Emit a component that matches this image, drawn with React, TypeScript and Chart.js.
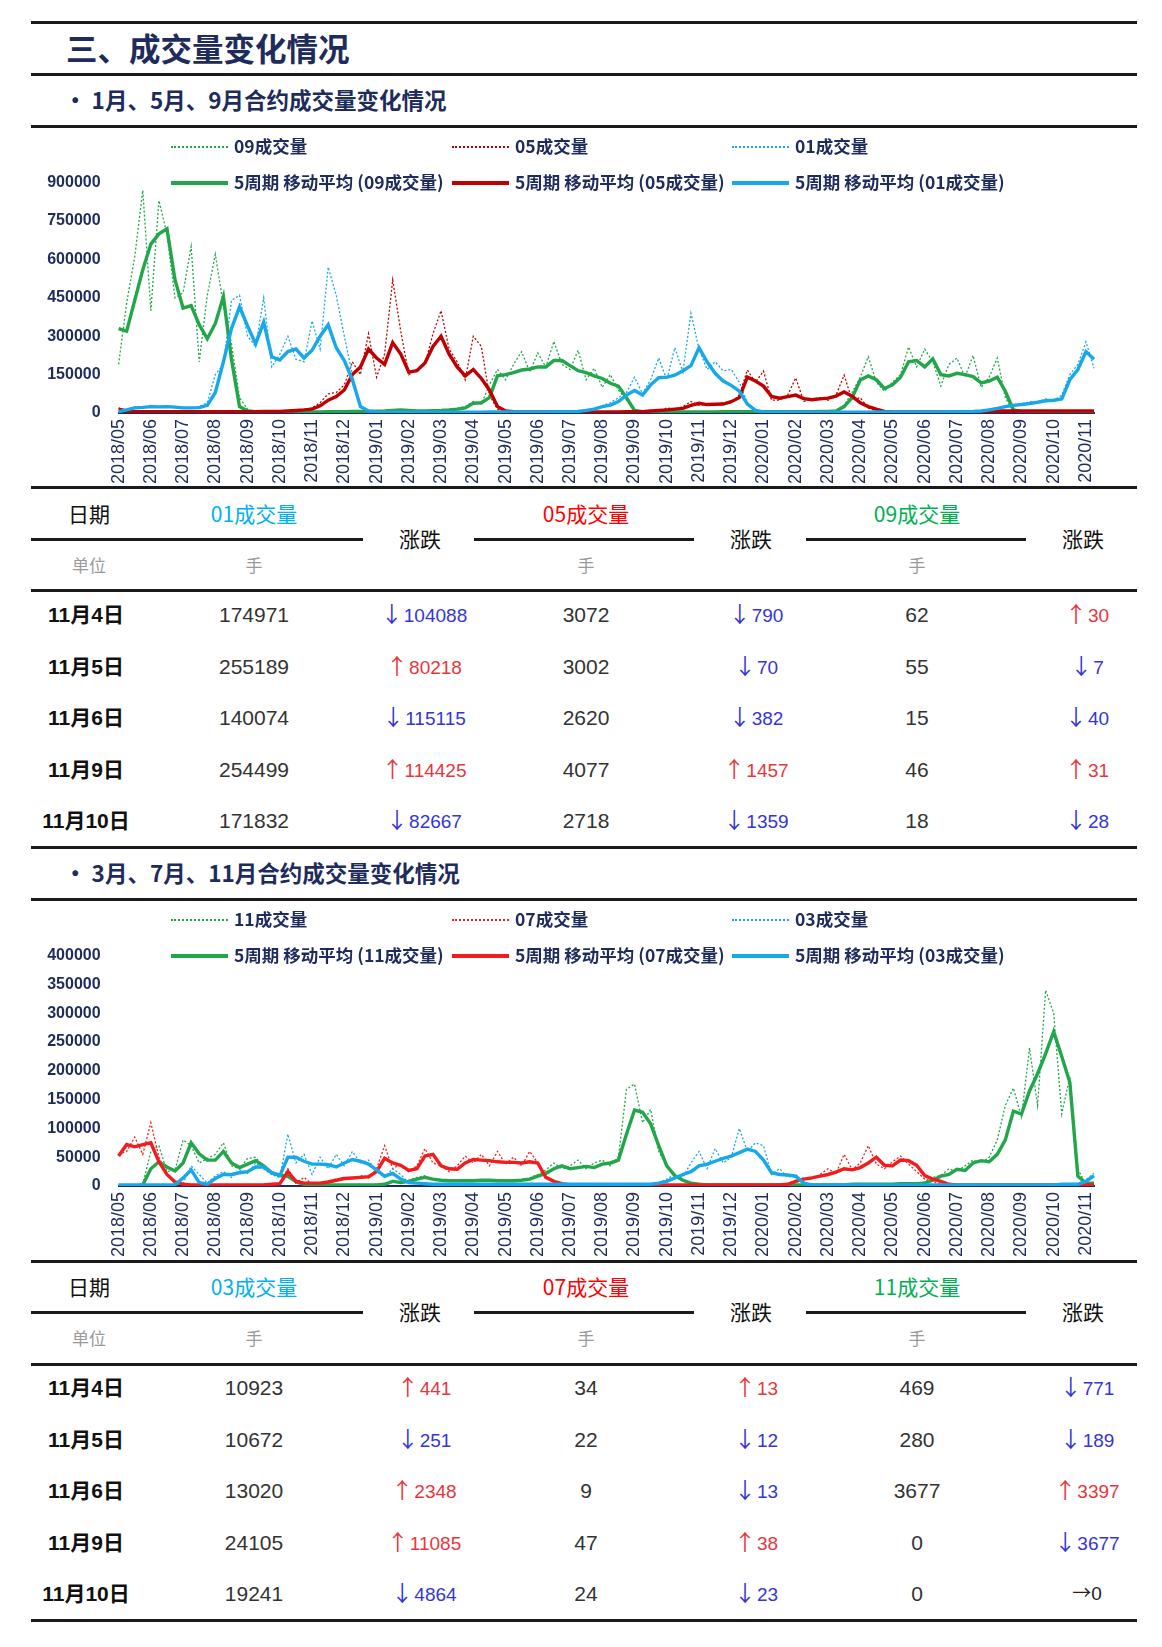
import React, { useEffect, useRef } from 'react';
import { Chart, registerables } from 'chart.js';

Chart.register(...registerables);

// ---------- axis labels ----------
const monthLabels = [
  '2018/05', '2018/06', '2018/07', '2018/08', '2018/09', '2018/10', '2018/11', '2018/12',
  '2019/01', '2019/02', '2019/03', '2019/04', '2019/05', '2019/06', '2019/07', '2019/08',
  '2019/09', '2019/10', '2019/11', '2019/12', '2020/01', '2020/02', '2020/03', '2020/04',
  '2020/05', '2020/06', '2020/07', '2020/08', '2020/09', '2020/10', '2020/11',
];
// 4 weekly samples per month, ending early Nov 2020 (122 points)
const POINTS = 122;
const xLabels = Array.from({ length: POINTS }, (_, i) => (i % 4 === 0 ? monthLabels[i / 4] : ''));

// ---------- chart 1 (values in thousand lots) ----------
const c1Raw09 = [
  190, 430, 610, 870, 400, 830, 700, 450, 470, 650, 200, 460, 620, 420, 270, 60,
  15, 5, 4, 3, 3, 3, 3, 4, 4, 5, 4, 6, 5, 6, 7, 6,
  7, 9, 12, 14, 9, 8, 7, 10, 11, 14, 18, 25, 45, 35, 110, 170,
  130, 190, 240, 160, 235, 180, 280, 190, 170, 245, 130, 175, 100, 150, 90, 50,
  8, 5, 5, 5, 4, 4, 4, 4, 4, 4, 4, 5, 5, 5, 5, 5,
  5, 5, 5, 5, 5, 5, 6, 6, 7, 10, 30, 80, 140, 220, 120, 85,
  120, 150, 258, 180, 250, 200, 105, 190, 215, 140, 225, 100, 140, 215, 60, 8,
  4, 3, 3, 3, 3, 3, 3, 3, 3, 3,
];
const c1Raw05 = [
  20, 5, 4, 5, 5, 6, 5, 4, 5, 6, 5, 5, 5, 5, 6, 5,
  5, 6, 6, 7, 7, 10, 12, 14, 20, 40, 75, 80, 110, 200, 150, 310,
  140, 230, 520, 320, 150, 170, 190, 310, 400, 250, 200, 130, 300, 260, 70, 15,
  5, 4, 4, 4, 4, 4, 4, 4, 4, 4, 4, 4, 4, 4, 5, 5,
  5, 6, 10, 8, 20, 15, 25, 45, 30, 35, 30, 40, 40, 70, 168, 120,
  164, 50, 50, 70, 137, 45, 55, 60, 50, 70, 148, 50, 60, 20, 8, 4,
  4, 4, 4, 4, 4, 4, 4, 4, 4, 4, 5, 5, 7, 8, 8, 9,
  8, 8, 9, 8, 8, 9, 8, 8, 8, 8,
];
const c1Raw01 = [
  2, 15, 25, 20, 30, 25, 28, 20, 22, 18, 25, 40, 150, 190, 440, 460,
  300, 260, 450, 180, 230, 300, 210, 200, 360, 250, 570, 460, 300, 150, 30, 10,
  4, 3, 3, 3, 3, 3, 3, 3, 3, 3, 3, 3, 3, 4, 4, 4,
  4, 4, 5, 4, 4, 5, 5, 5, 6, 7, 12, 18, 28, 40, 60, 80,
  140, 75, 130, 215, 130, 255, 160, 390, 250, 170, 200, 165, 170, 120, 40, 8,
  4, 3, 3, 3, 3, 3, 3, 3, 3, 3, 3, 3, 3, 3, 4, 4,
  4, 4, 4, 4, 4, 4, 5, 5, 5, 6, 7, 9, 15, 20, 28, 35,
  30, 45, 40, 55, 48, 70, 150, 190, 278, 175,
];
const c1Ma09 = [
  330, 320, 440, 560, 660, 700, 720, 520, 410, 420, 345, 290, 350, 455, 210, 25,
  8, 5, 4, 3, 3, 3, 3, 4, 4, 4, 5, 5, 5, 6, 6, 6,
  7, 8, 10, 12, 10, 8, 8, 9, 10, 12, 15, 20, 38, 40, 60, 145,
  150, 158, 168, 172, 180, 180, 205, 205, 185, 165, 158, 145, 135, 116, 105, 60,
  10, 5, 5, 5, 4, 4, 4, 4, 4, 4, 4, 5, 5, 5, 5, 5,
  5, 5, 5, 5, 5, 5, 5, 6, 6, 8, 25, 60, 129, 145, 130, 96,
  110, 140, 200, 205, 180, 212, 150, 145, 155, 150, 142, 118, 125, 140, 85, 12,
  5, 4, 3, 3, 3, 3, 3, 3, 3, 3,
];
const c1Ma05 = [
  15, 8, 5, 5, 5, 5, 5, 5, 5, 5, 5, 5, 5, 5, 5, 5,
  5, 5, 6, 6, 6, 8, 10, 12, 15, 28, 50, 64, 90, 150, 180, 250,
  215, 190, 275, 230, 160, 165, 195, 260, 300, 230, 180, 145, 170, 135, 90, 25,
  8, 5, 4, 4, 4, 4, 4, 4, 4, 4, 4, 4, 4, 4, 4, 5,
  5, 5, 8, 10, 12, 15, 18, 30, 38, 33, 34, 35, 44, 60, 140, 125,
  105, 65, 58, 64, 70, 56, 52, 55, 58, 66, 82, 66, 40, 25, 15, 6,
  4, 4, 4, 4, 4, 4, 4, 4, 4, 4, 4, 5, 6, 8, 8, 8,
  8, 8, 8, 8, 8, 8, 8, 8, 8, 8,
];
const c1Ma01 = [
  5, 12, 20, 22, 25, 24, 25, 23, 20, 20, 21, 30, 80, 200, 330, 415,
  340, 270, 355, 220, 207, 240, 250, 215, 245, 300, 345, 255, 205, 130, 25, 8,
  4, 3, 3, 3, 3, 3, 3, 3, 3, 3, 3, 3, 3, 3, 4, 4,
  4, 4, 4, 4, 4, 4, 5, 5, 5, 6, 10, 15, 25, 31, 45, 70,
  88, 70, 110, 138, 140, 148, 165, 185, 255, 200, 155, 125, 108, 85, 35, 10,
  4, 3, 3, 3, 3, 3, 3, 3, 3, 3, 3, 3, 3, 3, 4, 4,
  4, 4, 4, 4, 4, 4, 4, 5, 5, 5, 6, 8, 12, 18, 25, 30,
  33, 37, 42, 48, 50, 55, 130, 170, 240, 210,
];

// ---------- chart 2 (values in thousand lots) ----------
const c2Raw11 = [
  0, 0, 0, 3, 60, 70, 25, 28, 80, 70, 40, 48, 55, 75, 35, 30,
  48, 50, 30, 20, 15, 18, 5, 2, 2, 2, 2, 2, 2, 2, 3, 2,
  3, 4, 10, 5, 10, 15, 18, 10, 9, 10, 8, 10, 9, 11, 9, 10,
  8, 10, 11, 14, 20, 28, 40, 30, 35, 45, 30, 40, 45, 35, 50, 168,
  177, 110, 133, 60, 35, 20, 10, 4, 2, 2, 2, 2, 2, 2, 2, 2,
  2, 2, 2, 2, 2, 2, 2, 2, 2, 3, 2, 3, 3, 3, 4, 3,
  4, 4, 5, 5, 7, 15, 18, 30, 25, 35, 45, 40, 50, 80, 140, 170,
  120, 240, 140, 340, 300, 125, 190, 30, 2, 0,
];
const c2Raw07 = [
  55, 60, 85, 55, 110, 50, 20, 5, 3, 2, 2, 2, 2, 2, 2, 2,
  2, 2, 3, 3, 5, 30, 5, 15, 3, 6, 8, 12, 15, 12, 18, 14,
  30, 70, 30, 38, 25, 35, 65, 40, 35, 25, 35, 52, 40, 55, 35, 60,
  38, 50, 35, 60, 40, 15, 8, 2, 2, 2, 2, 2, 2, 2, 2, 2,
  2, 2, 2, 2, 2, 2, 2, 2, 2, 2, 3, 2, 2, 3, 2, 2,
  2, 2, 3, 4, 10, 14, 12, 20, 30, 22, 55, 28, 40, 70, 38, 30,
  42, 52, 38, 25, 12, 8, 3, 2, 2, 2, 2, 2, 2, 2, 2, 2,
  2, 2, 2, 2, 2, 2, 2, 2, 2, 2,
];
const c2Raw03 = [
  2, 2, 2, 2, 2, 2, 2, 2, 5, 35, 20, 5, 18, 25, 15, 28,
  22, 40, 30, 20, 15, 90, 40, 55, 20, 50, 30, 55, 35, 60, 40, 45,
  25, 15, 30, 20, 5, 4, 4, 3, 3, 3, 3, 3, 3, 3, 3, 3,
  3, 3, 3, 3, 3, 3, 3, 3, 3, 3, 3, 3, 3, 3, 3, 3,
  3, 3, 4, 6, 12, 20, 15, 40, 60, 30, 65, 40, 50, 100, 60, 75,
  70, 20, 30, 15, 20, 3, 2, 2, 2, 2, 2, 2, 2, 2, 2, 2,
  2, 2, 2, 2, 2, 2, 2, 2, 2, 2, 2, 2, 2, 2, 2, 2,
  2, 2, 2, 2, 2, 3, 3, 4, 11, 22,
];
const c2Ma11 = [
  0, 0, 0, 2, 30, 42, 33, 26, 40, 75, 56, 45, 45, 60, 40, 32,
  38, 44, 35, 23, 19, 17, 8, 3, 2, 2, 2, 2, 2, 2, 2, 2,
  2, 3, 8, 6, 8, 12, 15, 12, 10, 9, 9, 9, 9, 10, 10, 9,
  9, 9, 10, 12, 17, 22, 30, 35, 30, 32, 34, 32, 38, 40, 45, 90,
  132, 128, 108, 70, 35, 18, 10, 5, 3, 2, 2, 2, 2, 2, 2, 2,
  2, 2, 2, 2, 2, 2, 2, 2, 2, 2, 2, 3, 3, 3, 3, 3,
  3, 4, 4, 4, 5, 10, 17, 20, 29, 27, 40, 44, 42, 55, 80, 130,
  125, 165, 195, 230, 268, 225, 180, 17, 5, 5,
];
const c2Ma07 = [
  52, 72, 68, 72, 75, 42, 20, 7, 3, 2, 2, 2, 2, 2, 2, 2,
  2, 2, 2, 3, 4, 25, 8, 5, 5, 5, 7, 10, 13, 14, 15, 16,
  25, 48, 40, 36, 27, 30, 52, 55, 35, 30, 29, 40, 46, 45, 44, 42,
  41, 41, 40, 42, 40, 15, 8, 4, 2, 2, 2, 2, 2, 2, 2, 2,
  2, 2, 2, 2, 2, 2, 2, 2, 2, 2, 2, 2, 2, 2, 2, 2,
  2, 2, 2, 3, 8, 12, 14, 17, 20, 24, 30, 28, 32, 40, 50, 36,
  35, 45, 44, 36, 18, 12, 8, 3, 2, 2, 2, 2, 2, 2, 2, 2,
  2, 2, 2, 2, 2, 2, 2, 2, 2, 2,
];
const c2Ma03 = [
  2, 2, 2, 2, 2, 2, 2, 2, 14, 28, 6, 3, 13, 20, 20, 23,
  25, 33, 33, 23, 18, 50, 50, 43, 38, 38, 37, 33, 40, 46, 43, 38,
  28, 17, 22, 12, 6, 5, 4, 3, 3, 3, 3, 3, 3, 3, 3, 3,
  3, 3, 3, 3, 3, 3, 3, 3, 3, 3, 3, 3, 3, 3, 3, 3,
  3, 3, 3, 5, 8, 14, 20, 25, 35, 38, 43, 48, 52, 58, 64, 60,
  45, 23, 20, 19, 17, 5, 2, 2, 2, 2, 2, 2, 2, 2, 2, 2,
  2, 2, 2, 2, 2, 2, 2, 2, 2, 2, 2, 2, 2, 2, 2, 2,
  2, 2, 2, 2, 2, 3, 3, 3, 8, 18,
];

// ---------- tables ----------
const tableDates = ['11月4日', '11月5日', '11月6日', '11月9日', '11月10日'];
const vol01 = [174971, 255189, 140074, 254499, 171832];
const chg01 = [-104088, 80218, -115115, 114425, -82667];
const vol05 = [3072, 3002, 2620, 4077, 2718];
const chg05 = [-790, -70, -382, 1457, -1359];
const vol09 = [62, 55, 15, 46, 18];
const chg09 = [30, -7, -40, 31, -28];
const vol03 = [10923, 10672, 13020, 24105, 19241];
const chg03 = [441, -251, 2348, 11085, -4864];
const vol07 = [34, 22, 9, 47, 24];
const chg07 = [13, -12, -13, 38, -23];
const vol11 = [469, 280, 3677, 0, 0];
const chg11 = [-771, -189, 3397, -3677, 0];

// ---------- styles ----------
const NAVY = '#1e2c5c';
const GREEN = '#22a64a';
const DARKRED = '#c00000';
const RED = '#f21c1c';
const CYAN = '#17a8ea';
const T_CYAN = '#00b0f0';
const T_RED = '#ff0000';
const T_GREEN = '#00b050';
const UP = '#e8363c';
const DOWN = '#3535d8';
const LATIN = '"Liberation Sans", "Noto Sans CJK SC", sans-serif';
const CJK = '"Noto Sans CJK SC", "Liberation Sans", sans-serif';

const THOUSAND = 1000;
const toLots = (arr: number[]) => arr.map((v) => v * THOUSAND);

type SeriesDef = { name: string; color: string; raw: number[]; ma: number[] };

function buildDatasets(series: SeriesDef[]) {
  const raws = series.map((s, k) => ({
    label: s.name,
    data: toLots(s.raw),
    borderColor: s.color,
    backgroundColor: s.color,
    borderWidth: 1.3,
    borderDash: [2, 2],
    pointRadius: 0,
    tension: 0,
    fill: false,
    order: 10 + (series.length - k),
  }));
  const mas = series.map((s, k) => ({
    label: '5周期 移动平均 (' + s.name + ')',
    data: toLots(s.ma),
    borderColor: s.color,
    backgroundColor: s.color,
    borderWidth: 3.4,
    pointRadius: 0,
    tension: 0,
    fill: false,
    order: series.length - k,
  }));
  return [...raws, ...mas];
}

function VolumeChart({ series, yMax, yStep }: { series: SeriesDef[]; yMax: number; yStep: number }) {
  const ref = useRef<HTMLCanvasElement | null>(null);
  useEffect(() => {
    if (!ref.current) return;
    const chart = new Chart(ref.current, {
      type: 'line',
      data: { labels: xLabels, datasets: buildDatasets(series) as any },
      options: {
        animation: false,
        responsive: false,
        devicePixelRatio: 1,
        layout: { padding: { top: 56.7, right: 68, left: 0, bottom: 0 } },
        plugins: { legend: { display: false }, tooltip: { enabled: false } },
        scales: {
          x: {
            type: 'category',
            grid: { display: false, drawTicks: false },
            border: { display: true, color: NAVY, width: 2 },
            ticks: {
              autoSkip: false,
              minRotation: 90,
              maxRotation: 90,
              padding: 6,
              color: NAVY,
              font: { family: LATIN, size: 18 },
            },
            afterFit: (s: any) => {
              s.height = 74;
            },
          },
          y: {
            min: 0,
            max: yMax,
            grid: { display: false, drawTicks: false },
            border: { display: false },
            ticks: {
              stepSize: yStep,
              padding: 18,
              color: NAVY,
              font: { family: LATIN, size: 16, weight: 'bold' },
              callback: (v: any) => String(v),
            },
            afterFit: (s: any) => {
              s.width = 118.6;
            },
          },
        },
      } as any,
    });
    return () => chart.destroy();
  }, []);
  return <canvas ref={ref} width={1162} height={361} style={{ display: 'block', width: 1162, height: 361 }} />;
}

const Rule = ({ y, x1 = 31, x2 = 1137, h = 3 }: { y: number; x1?: number; x2?: number; h?: number }) => (
  <div style={{ position: 'absolute', left: x1, top: y - h / 2, width: x2 - x1, height: h, background: '#1a1a1a' }} />
);

const Txt = ({ x, y, align = 'center', style, children }: any) => (
  <div
    style={{
      position: 'absolute',
      left: x,
      top: y,
      transform: align === 'center' ? 'translate(-50%, -50%)' : 'translate(0, -50%)',
      whiteSpace: 'nowrap',
      lineHeight: 1,
      ...style,
    }}
  >
    {children}
  </div>
);

function Legend({ top, series }: { top: number; series: SeriesDef[] }) {
  const cols = [171, 452, 732];
  const rows = [top + 20, top + 56];
  const textStyle = { fontFamily: CJK, fontWeight: 700, fontSize: 17.5, color: NAVY };
  const items: any[] = [];
  series.forEach((s, k) => {
    items.push(
      <div key={'rs' + k} style={{ position: 'absolute', left: cols[k], top: rows[0], width: 57, height: 0, borderTop: `2px dotted ${s.color}` }} />,
      <Txt key={'rt' + k} x={cols[k] + 63} y={rows[0]} align="left" style={textStyle}>{s.name}</Txt>,
      <div key={'ms' + k} style={{ position: 'absolute', left: cols[k], top: rows[1] - 1, width: 57, height: 4, background: s.color }} />,
      <Txt key={'mt' + k} x={cols[k] + 63} y={rows[1]} align="left" style={textStyle}>{'5周期 移动平均 (' + s.name + ')'}</Txt>,
    );
  });
  return <>{items}</>;
}

function Change({ v }: { v: number }) {
  if (v === 0) return <span style={{ color: '#222' }}><span style={{ fontFamily: CJK }}>→</span>0</span>;
  const up = v > 0;
  return (
    <span style={{ color: up ? UP : DOWN }}>
      <span style={{ fontFamily: CJK, fontSize: 22, marginRight: 1 }}>{up ? '↑' : '↓'}</span>
      {Math.abs(v)}
    </span>
  );
}

function Table({ top, names, colors, vols, chgs }: { top: number; names: string[]; colors: string[]; vols: number[][]; chgs: number[][] }) {
  const o = top - 487.7;
  const valX = [254, 586, 917];
  const chgX = [424, 756, 1087];
  const rowsY = [614, 665.5, 717, 768.5, 819.5];
  const headStyle = { fontFamily: CJK, fontSize: 21 };
  const unitStyle = { fontFamily: CJK, fontSize: 17, color: '#9a9a9a' };
  return (
    <>
      <Rule y={487.7 + o} />
      <Txt x={89} y={512.5 + o} style={{ ...headStyle, color: '#111' }}>日期</Txt>
      {names.map((n, k) => (
        <Txt key={'h' + k} x={valX[k]} y={512.5 + o} style={{ ...headStyle, color: colors[k] }}>{n}</Txt>
      ))}
      {[420, 751, 1083].map((x, k) => (
        <Txt key={'z' + k} x={x} y={538 + o} style={{ ...headStyle, color: '#111' }}>涨跌</Txt>
      ))}
      <Rule y={539 + o} x1={31} x2={363} />
      <Rule y={539 + o} x1={474} x2={694} />
      <Rule y={539 + o} x1={806} x2={1026} />
      <Txt x={89} y={564 + o} style={unitStyle}>单位</Txt>
      {valX.map((x, k) => (
        <Txt key={'u' + k} x={x} y={564 + o} style={unitStyle}>手</Txt>
      ))}
      <Rule y={590.7 + o} />
      {tableDates.map((d, r) => (
        <React.Fragment key={'r' + r}>
          <Txt x={86} y={rowsY[r] + o} style={{ fontFamily: LATIN, fontWeight: 700, fontSize: 21, color: '#111' }}>{d}</Txt>
          {vols.map((col, k) => (
            <Txt key={'v' + k} x={valX[k]} y={rowsY[r] + o} style={{ fontFamily: LATIN, fontSize: 21, color: '#333' }}>{col[r]}</Txt>
          ))}
          {chgs.map((col, k) => (
            <Txt key={'c' + k} x={chgX[k]} y={rowsY[r] - 1 + o} style={{ fontFamily: LATIN, fontSize: 19 }}><Change v={col[r]} /></Txt>
          ))}
        </React.Fragment>
      ))}
      <Rule y={847 + o} />
    </>
  );
}

const series1: SeriesDef[] = [
  { name: '09成交量', color: GREEN, raw: c1Raw09, ma: c1Ma09 },
  { name: '05成交量', color: DARKRED, raw: c1Raw05, ma: c1Ma05 },
  { name: '01成交量', color: CYAN, raw: c1Raw01, ma: c1Ma01 },
];
const series2: SeriesDef[] = [
  { name: '11成交量', color: GREEN, raw: c2Raw11, ma: c2Ma11 },
  { name: '07成交量', color: RED, raw: c2Raw07, ma: c2Ma07 },
  { name: '03成交量', color: CYAN, raw: c2Raw03, ma: c2Ma03 },
];

export default function App() {
  const S2 = 773.3;
  const subStyle = { fontFamily: CJK, fontWeight: 700, fontSize: 22.5, color: NAVY };
  return (
    <div style={{ position: 'absolute', left: 0, top: 0, width: 1162, height: 1647, background: '#fff', overflow: 'hidden' }}>
      <Rule y={22} />
      <Txt x={66} y={48} align="left" style={{ fontFamily: CJK, fontWeight: 700, fontSize: 31.5, color: NAVY }}>三、成交量变化情况</Txt>
      <Rule y={74} />

      {/* section 1 */}
      <Txt x={64} y={98.5} align="left" style={subStyle}>• 1月、5月、9月合约成交量变化情况</Txt>
      <Rule y={126} />
      <div style={{ position: 'absolute', left: 0, top: 126 }}>
        <VolumeChart series={series1} yMax={900000} yStep={150000} />
      </div>
      <Legend top={126} series={series1} />
      <Table top={487.7} names={['01成交量', '05成交量', '09成交量']} colors={[T_CYAN, T_RED, T_GREEN]} vols={[vol01, vol05, vol09]} chgs={[chg01, chg05, chg09]} />

      {/* section 2 */}
      <Txt x={64} y={98.5 + S2} align="left" style={subStyle}>• 3月、7月、11月合约成交量变化情况</Txt>
      <Rule y={126 + S2} />
      <div style={{ position: 'absolute', left: 0, top: 126 + S2 }}>
        <VolumeChart series={series2} yMax={400000} yStep={50000} />
      </div>
      <Legend top={126 + S2} series={series2} />
      <Table top={487.7 + S2} names={['03成交量', '07成交量', '11成交量']} colors={[T_CYAN, T_RED, T_GREEN]} vols={[vol03, vol07, vol11]} chgs={[chg03, chg07, chg11]} />
    </div>
  );
}
